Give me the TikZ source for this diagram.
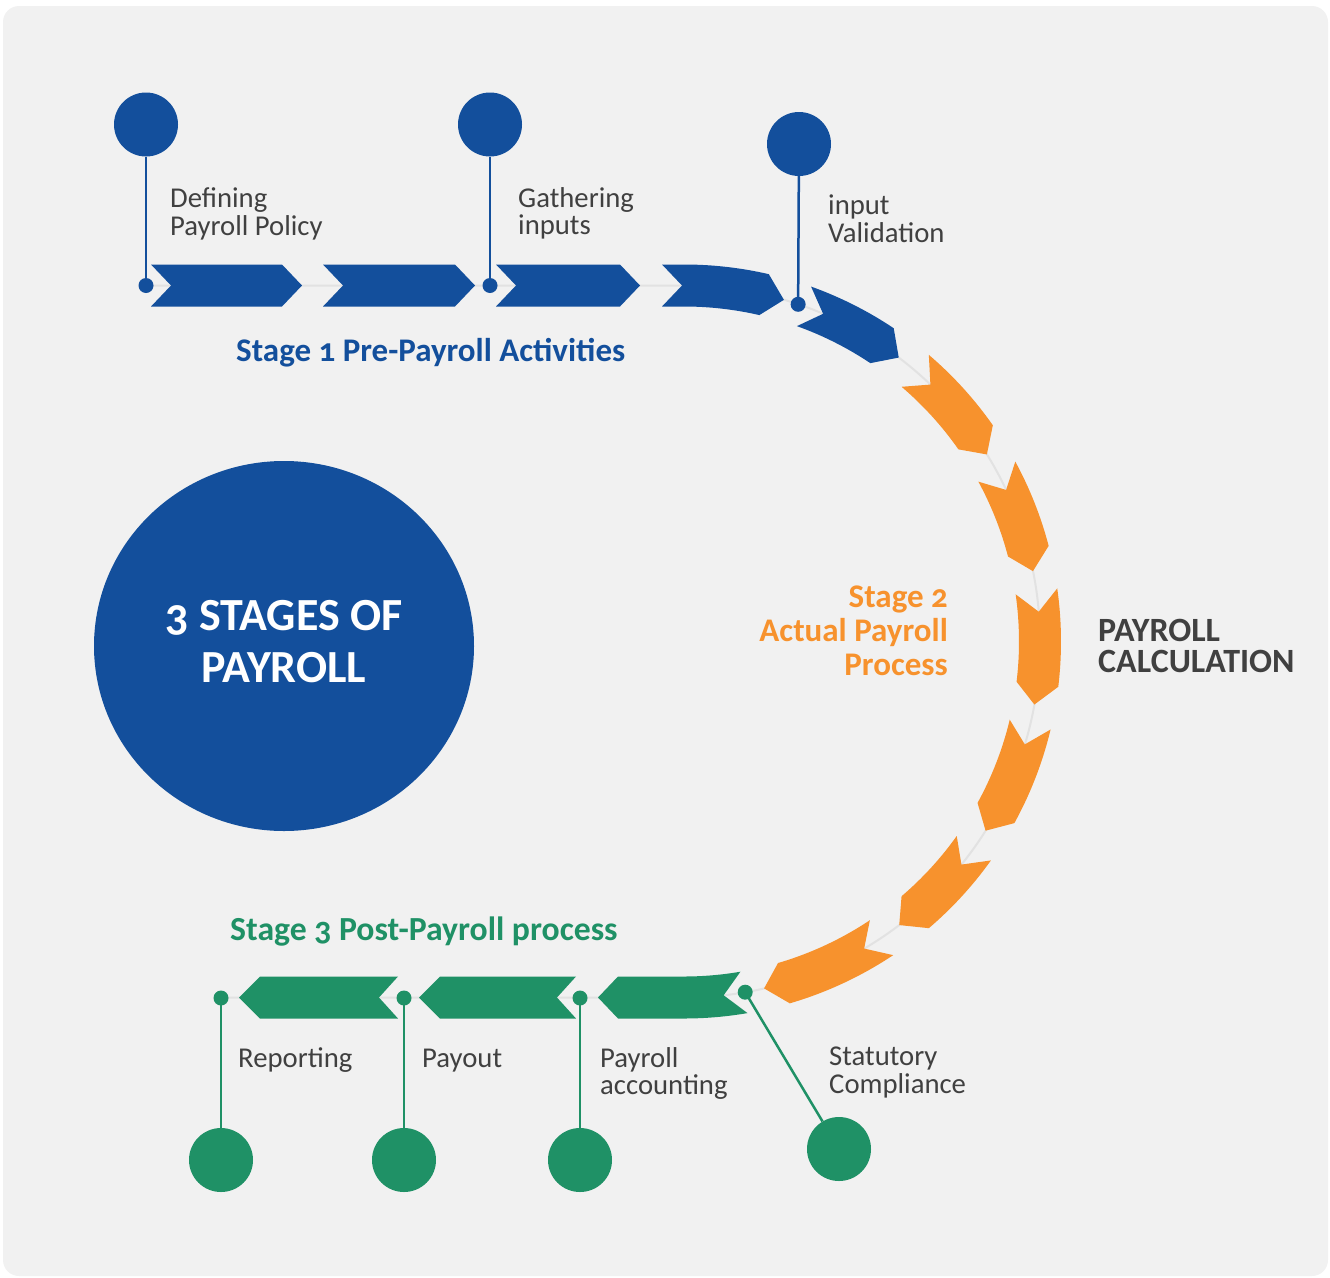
\documentclass[tikz,border=0pt]{standalone}
\usepackage{fontspec}
\setmainfont{Carlito}[Numbers=OldStyle]
\usetikzlibrary{shapes.geometric}
\definecolor{pblue}{HTML}{134F9C}
\definecolor{porange}{HTML}{F7922D}
\definecolor{pgreen}{HTML}{1F9166}
\definecolor{pbg}{HTML}{F1F1F1}
\definecolor{ptext}{HTML}{404040}
\definecolor{ptrack}{HTML}{E2E2E2}
% curved chevron: tail angle, head-corner angle, colour (inside centre scope)
\newcommand{\arcchev}[3]{%
  \fill[#3] (#1:377) arc[start angle=#1, end angle=#2, radius=377]
    -- ({#2+3.3}:356) -- (#2:335) arc[start angle=#2, end angle=#1, radius=335]
    -- ({#1+3.3}:356) -- cycle;}
% straight chevron pointing right: tail x, head x
\newcommand{\rchev}[2]{%
  \fill[pblue] (#1,264.5) -- (#2,264.5) -- ({#2+20},285.5) -- (#2,306.5)
    -- (#1,306.5) -- ({#1+20},285.5) -- cycle;}
% straight chevron pointing left: tail x, head x
\newcommand{\lchev}[2]{%
  \fill[pgreen] (#1,976.5) -- (#2,976.5) -- ({#2-21},997.5) -- (#2,1018.5)
    -- (#1,1018.5) -- ({#1-19},997.5) -- cycle;}
\tikzset{
  bdot/.style={circle, fill=pblue, inner sep=0pt, minimum size=15pt},
  gdot/.style={circle, fill=pgreen, inner sep=0pt, minimum size=15pt},
  bbig/.style={circle, fill=pblue, inner sep=0pt, minimum size=64pt},
  gbig/.style={circle, fill=pgreen, inner sep=0pt, minimum size=64pt},
  bstem/.style={draw=pblue, line width=2.5pt},
  gstem/.style={draw=pgreen, line width=2.5pt},
  lbl/.style={inner sep=0pt, anchor=base west, text=ptext, font=\fontsize{28.7}{27}\selectfont},
  stagelbl/.style={inner sep=0pt, anchor=base west, font=\bfseries\fontsize{33}{34}\selectfont},
  track/.style={draw=ptrack, line width=2pt}
}
\begin{document}
\begin{tikzpicture}[x=1pt, y=-1pt]
\useasboundingbox (0,0) rectangle (1330,1277);
\fill[pbg, rounded corners=16pt] (3,6) rectangle (1328,1276);

% track and curved chevrons
\begin{scope}[shift={(684,641.5)}]
  \draw[track] (-538,-356) -- (0,-356) arc[start angle=-90, end angle=90, radius=356] -- (-463,356);
  % chevron 4 (straight into arc)
  \fill[pblue] (-22,-377) -- (0,-377) arc[start angle=-90, end angle=-77, radius=377]
    -- (-73.7:356) -- (-77:335) arc[start angle=-77, end angle=-90, radius=335]
    -- (-22,-335) -- (-2,-356) -- cycle;
  \arcchev{-70.3}{-56.2}{pblue}
  \arcchev{-49.5}{-35.0}{porange}
  \arcchev{-28.5}{-14.7}{porange}
  \arcchev{-8.1}{6.9}{porange}
  \arcchev{13.5}{28.8}{porange}
  \arcchev{35.5}{49.5}{porange}
  \arcchev{56.3}{73.7}{porange}
  % first green chevron (arc into straight)
  \fill[pgreen] (80.3:377) arc[start angle=80.3, end angle=90, radius=377]
    -- (-66,377) -- (-86,356) -- (-66,335) -- (0,335)
    arc[start angle=90, end angle=80.3, radius=335] -- (83.6:356) -- cycle;
  \node[bdot] (d3) at (-71.3:356) {};
  \node[gdot] (g4) at (80.1:356) {};
\end{scope}

% straight chevrons
\rchev{151}{282}
\rchev{323}{455}
\rchev{496}{620}
\lchev{576}{440}
\lchev{398}{260}

% top markers
\node[bdot] (d1) at (146,285.5) {};
\node[bdot] (d2) at (490,285.5) {};
\node[bbig] (c1) at (146,124.5) {};
\node[bbig] (c2) at (490,124.5) {};
\node[bbig] (c3) at (799,144) {};
\draw[bstem] (d1.center) -- (c1);
\draw[bstem] (d2.center) -- (c2);
\draw[bstem] (d3.center) -- (c3);

% bottom markers
\node[gdot] (g1) at (221,998) {};
\node[gdot] (g2) at (404,998) {};
\node[gdot] (g3) at (580,998) {};
\node[gbig] (k1) at (221,1160) {};
\node[gbig] (k2) at (404,1160) {};
\node[gbig] (k3) at (580,1160) {};
\node[gbig] (k4) at (839,1149) {};
\draw[gstem] (g1.center) -- (k1);
\draw[gstem] (g2.center) -- (k2);
\draw[gstem] (g3.center) -- (k3);
\draw[gstem] (g4.center) -- (k4);

% labels
\node[lbl] (t1) at (170,207) {\begin{tabular}[t]{@{}l@{}}Defining\\Payroll Policy\end{tabular}};
\node[lbl] (t2) at (518,207) {\begin{tabular}[t]{@{}l@{}}Gathering\\inputs\end{tabular}};
\node[lbl] (t3) at (828,214) {\begin{tabular}[t]{@{}l@{}}input\\Validation\end{tabular}};
\node[lbl] (b1) at (238,1067) {Reporting};
\node[lbl] (b2) at (422,1067) {Payout};
\node[lbl] (b3) at (600,1067) {\begin{tabular}[t]{@{}l@{}}Payroll\\accounting\end{tabular}};
\node[lbl] (b4) at (829,1065) {\begin{tabular}[t]{@{}l@{}}Statutory\\Compliance\end{tabular}};

\node[stagelbl, text=pblue] (s1) at (236,361) {Stage 1 Pre-Payroll Activities};
\node[stagelbl, text=pgreen, font=\bfseries\fontsize{33.7}{34}\selectfont] (s3) at (230,940) {Stage 3 Post-Payroll process};
\node[stagelbl, text=porange, anchor=base east] (s2) at (948,607)
  {\begin{tabular}[t]{@{}r@{}}Stage 2\\Actual Payroll\\Process\end{tabular}};
\node[stagelbl, text=ptext, font=\bfseries\fontsize{34}{30}\selectfont] (calc) at (1098,641)
  {\begin{tabular}[t]{@{}l@{}}PAYROLL\\CALCULATION\end{tabular}};

% title
\node[ellipse, fill=pblue, minimum width=380pt, minimum height=370pt, inner sep=0pt,
  text=white, font=\bfseries\fontsize{46}{52}\selectfont] (title) at (284,646)
  {\begin{tabular}{@{}c@{}}3 STAGES OF\\PAYROLL\end{tabular}};
\end{tikzpicture}
\end{document}
